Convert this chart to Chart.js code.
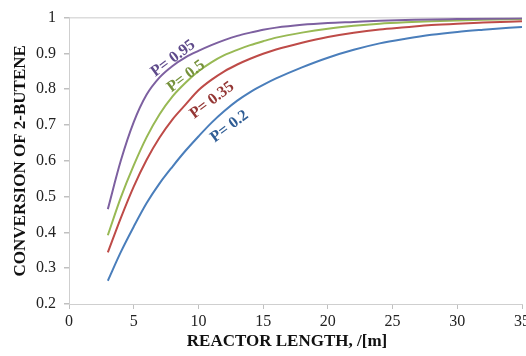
<!DOCTYPE html>
<html>
<head>
<meta charset="utf-8">
<script src="https://cdn.jsdelivr.net/npm/chart.js@4.4.0/dist/chart.umd.min.js"></script>
<style>
html,body{margin:0;padding:0;background:#fff;overflow:hidden;width:526px;height:356px;}
#wrap{position:absolute;left:0;top:0;width:540px;height:356px;}
</style>
</head>
<body>
<div id="wrap"><canvas id="c"></canvas></div>
<script>
// Reactor length, m
const lengths = [3,4,5,6,7,8,9,10,11,12,13,14,15,16,18,20,22,24,26,28,30,32,35];
// Conversion of 2-butene for each pressure
const convP095 = [0.465,0.600,0.708,0.785,0.833,0.865,0.889,0.907,0.923,0.937,0.949,0.958,0.966,0.972,0.980,0.985,0.988,0.991,0.993,0.995,0.996,0.997,0.998];
const convP05  = [0.392,0.497,0.587,0.666,0.730,0.780,0.818,0.850,0.875,0.895,0.910,0.923,0.934,0.944,0.958,0.969,0.977,0.983,0.987,0.990,0.992,0.994,0.996];
const convP035 = [0.344,0.440,0.528,0.603,0.665,0.716,0.757,0.797,0.826,0.850,0.869,0.885,0.899,0.911,0.930,0.946,0.958,0.967,0.973,0.979,0.983,0.986,0.990];
const convP02  = [0.265,0.345,0.416,0.482,0.537,0.584,0.628,0.668,0.706,0.739,0.768,0.792,0.812,0.830,0.861,0.888,0.910,0.928,0.941,0.952,0.960,0.966,0.974];
const seriesNames = ['P= 0.95','P= 0.5','P= 0.35','P= 0.2'];
const xTickLabels = ['0','5','10','15','20','25','30','35'];
const yTickLabels = ['0.2','0.3','0.4','0.5','0.6','0.7','0.8','0.9','1'];
// label anchors in data units (length, conversion)
const labelAnchorX = [8.05, 9.05, 11.05, 12.4];
const labelAnchorY = [0.886, 0.836, 0.769, 0.696];

const lineColors = ['#7D60A0','#98B954','#BE4B48','#4A7EBB'];
const textColors = ['#5F4B8B','#76923C','#943634','#2F5D95'];
const serif = "'Liberation Serif','Times New Roman',serif";

const allSeries = [convP095, convP05, convP035, convP02];
const datasets = allSeries.map((arr, i) => ({
  label: seriesNames[i],
  data: lengths.map((x, j) => ({x: x, y: arr[j]})),
  borderColor: lineColors[i],
  borderWidth: 2,
  pointRadius: 0,
  fill: false,
  cubicInterpolationMode: 'monotone'
}));

const curveLabels = {
  id: 'curveLabels',
  afterDatasetsDraw(chart) {
    const {ctx, scales: {x, y}} = chart;
    ctx.save();
    ctx.font = 'bold 16px ' + serif;
    ctx.textAlign = 'center';
    ctx.textBaseline = 'middle';
    seriesNames.forEach((name, i) => {
      const px = x.getPixelForValue(labelAnchorX[i]);
      const py = y.getPixelForValue(labelAnchorY[i]);
      ctx.save();
      ctx.translate(px, py);
      ctx.rotate(-37 * Math.PI / 180);
      ctx.fillStyle = textColors[i];
      ctx.fillText(name, 0, 0);
      ctx.restore();
    });
    ctx.restore();
  }
};

new Chart(document.getElementById('c'), {
  type: 'line',
  data: {datasets},
  plugins: [curveLabels],
  options: {
    responsive: true,
    maintainAspectRatio: false,
    animation: false,
    layout: {padding: {left: 0, right: 18, top: 17, bottom: 0}},
    plugins: {legend: {display: false}, tooltip: {enabled: false}},
    scales: {
      x: {
        type: 'linear',
        min: 0, max: 35,
        afterFit(s) { s.height = 52; },
        ticks: {
          stepSize: 5,
          color: '#222',
          font: {family: serif, size: 16},
          padding: 3,
          maxRotation: 0,
          callback: (v, i) => xTickLabels[i]
        },
        grid: {drawOnChartArea: false, drawTicks: true, tickLength: 5, tickColor: '#c0c0c0'},
        border: {color: '#cfcfcf', width: 1},
        title: {
          display: true,
          text: 'REACTOR LENGTH, /[m]    ',
          color: '#111',
          font: {family: serif, size: 17, weight: 'bold'},
          padding: {top: 0, bottom: 4}
        }
      },
      y: {
        min: 0.2, max: 1,
        afterFit(s) { s.width = 69; },
        ticks: {
          stepSize: 0.1,
          color: '#222',
          font: {family: serif, size: 16},
          padding: 8,
          callback: (v, i) => yTickLabels[i]
        },
        grid: {
          drawTicks: true,
          tickLength: 5,
          tickColor: '#c0c0c0',
          lineWidth: 1.5,
          color: (c) => (c.tick && Math.abs(c.tick.value - 1) < 1e-6) ? '#dcdcdc' : 'rgba(0,0,0,0)'
        },
        border: {color: '#cfcfcf', width: 1},
        title: {
          display: true,
          text: 'CONVERSION OF 2-BUTENE',
          color: '#111',
          font: {family: serif, size: 17, weight: 'bold'},
          padding: {top: 10, bottom: 0}
        }
      }
    }
  }
});
</script>
</body>
</html>
